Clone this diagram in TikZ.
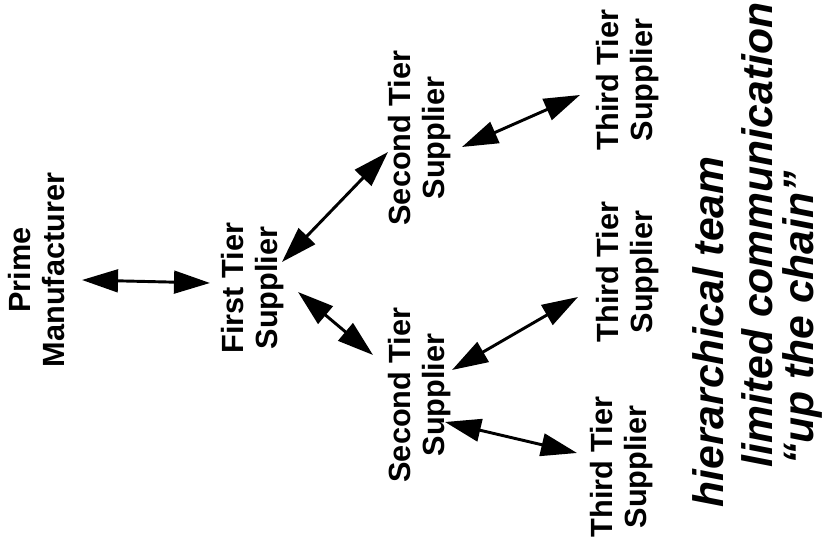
\documentclass[tikz,border=0pt]{standalone}
\usepackage{fontspec}
\setmainfont{Liberation Sans}
\usetikzlibrary{arrows.meta}
\tikzset{
  every picture/.style={x=0.75pt, y=-0.75pt},
  lbl/.style={rotate=90, align=center, inner sep=0pt, font=\fontsize{23}{25.5}\selectfont\bfseries},
  note/.style={rotate=90, inner sep=0pt, font=\fontsize{32}{35}\selectfont\bfseries\itshape},
  dbl/.style={{Triangle[length=27pt,width=17pt]}-{Triangle[length=27pt,width=17pt]}, line width=2.2pt},
}

\begin{document}
\begin{tikzpicture}
  \useasboundingbox (0,0) rectangle (822,548);
  % the chain
  \node[lbl] (prime) at (37,270) {Prime\\Manufacturer};
  \node[lbl] (first) at (253,288) {First Tier\\Supplier};
  \node[lbl] (secA) at (420,138) {Second Tier\\Supplier};
  \node[lbl] (secB) at (420,395) {Second Tier\\Supplier};
  \node[lbl] (thA) at (628,80) {Third Tier\\Supplier};
  \node[lbl] (thB) at (628,272) {Third Tier\\Supplier};
  \node[lbl] (thC) at (622,467) {Third Tier\\Supplier};
  % links
  \draw[dbl] ([shift={(45,10)}]prime.center) -- ([shift={(-43,-5)}]first.center);
  \draw[dbl] ([shift={(29,-26)}]first.center) -- ([shift={(-32,14)}]secA.center);
  \draw[dbl] ([shift={(45,4)}]first.center) -- ([shift={(-47,-40)}]secB.center);
  \draw[dbl] ([shift={(42,9)}]secA.center) -- ([shift={(-48,15)}]thA.center);
  \draw[dbl] ([shift={(32,-25)}]secB.center) -- ([shift={(-50,25)}]thB.center);
  \draw[dbl] ([shift={(25,27)}]secB.center) -- ([shift={(-45,-14)}]thC.center);
  % remarks
  \node[note] (hier) at (708,332) {hierarchical team};
  \node[note] (limit) at (757,235) {limited communication};
  \node[note] (chain) at (802,318) {“up the chain”};
\end{tikzpicture}
\end{document}
